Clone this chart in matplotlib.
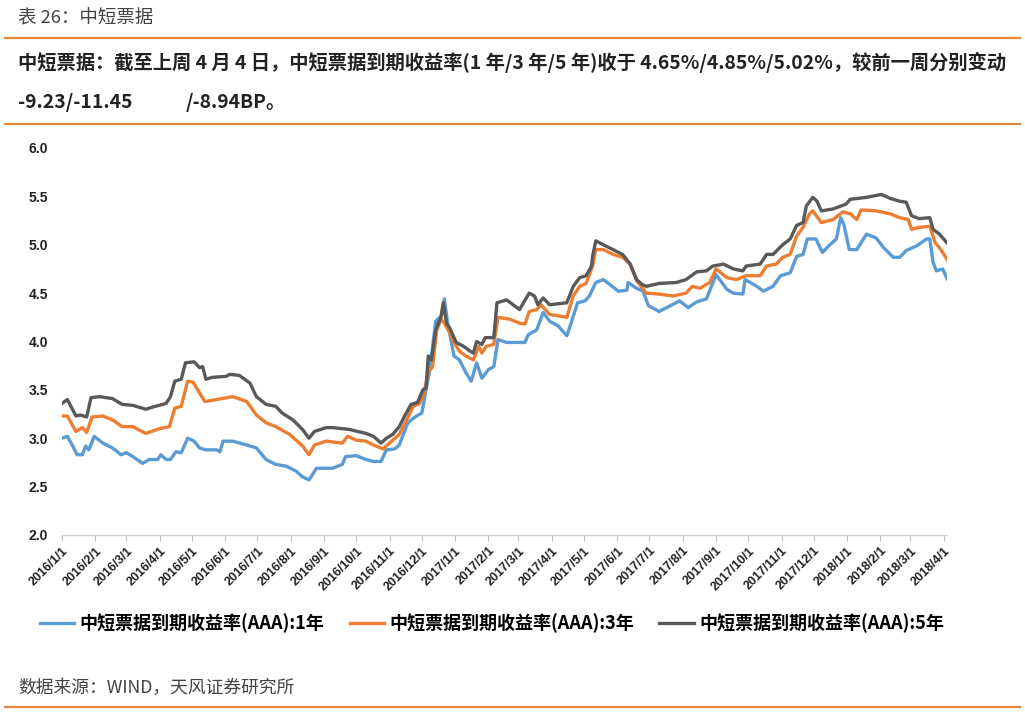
import matplotlib
matplotlib.use("Agg")
import matplotlib.pyplot as plt
from matplotlib.lines import Line2D
import pandas as pd

plt.rcParams['font.family'] = ['Noto Sans CJK SC', 'DejaVu Sans']

# ---------------- data ----------------
dates_5y = ["2016-01-01","2016-01-06","2016-01-14","2016-01-18","2016-01-24","2016-01-28","2016-02-05","2016-02-17",
            "2016-02-26","2016-03-07","2016-03-19","2016-03-28","2016-04-07","2016-04-11","2016-04-15","2016-04-21",
            "2016-04-25","2016-05-03","2016-05-08","2016-05-11","2016-05-14","2016-05-20","2016-06-02","2016-06-05",
            "2016-06-14","2016-06-24","2016-06-30","2016-07-09","2016-07-18","2016-07-24","2016-08-03","2016-08-12",
            "2016-08-18","2016-08-23","2016-09-03","2016-09-09","2016-09-25","2016-10-10","2016-10-17","2016-10-24",
            "2016-10-29","2016-11-04","2016-11-10","2016-11-15","2016-11-21","2016-11-27","2016-12-02","2016-12-05",
            "2016-12-07","2016-12-10","2016-12-14","2016-12-19","2016-12-21","2016-12-24","2016-12-27","2017-01-02",
            "2017-01-09","2017-01-15","2017-01-18","2017-01-21","2017-01-26","2017-01-29","2017-02-06","2017-02-09",
            "2017-02-18","2017-03-02","2017-03-11","2017-03-16","2017-03-19","2017-03-24","2017-03-30","2017-04-15",
            "2017-04-21","2017-04-27","2017-05-03","2017-05-08","2017-05-09","2017-05-12","2017-05-19","2017-05-28",
            "2017-06-06","2017-06-13","2017-06-19","2017-06-24","2017-06-28","2017-07-10","2017-07-26","2017-08-04",
            "2017-08-14","2017-08-23","2017-08-29","2017-09-08","2017-09-17","2017-09-26","2017-09-29","2017-10-12",
            "2017-10-18","2017-10-24","2017-11-02","2017-11-09","2017-11-15","2017-11-21","2017-11-24","2017-11-30",
            "2017-12-04","2017-12-08","2017-12-19","2017-12-31","2018-01-04","2018-01-19","2018-02-02","2018-02-10",
            "2018-02-19","2018-02-25","2018-03-02","2018-03-09","2018-03-19","2018-03-22","2018-03-28","2018-04-04"]
yield_5y = [3.36,3.40,3.23,3.24,3.22,3.42,3.43,3.41,
            3.35,3.34,3.30,3.33,3.36,3.43,3.59,3.61,
            3.78,3.79,3.73,3.74,3.61,3.63,3.64,3.66,
            3.65,3.57,3.43,3.35,3.33,3.26,3.19,3.09,
            3.00,3.07,3.11,3.11,3.09,3.05,3.02,2.95,
            3.00,3.04,3.12,3.23,3.35,3.37,3.50,3.52,
            3.85,3.81,4.12,4.26,4.40,4.19,4.14,3.99,
            3.95,3.90,3.88,4.00,3.97,4.04,4.04,4.40,
            4.43,4.33,4.50,4.47,4.38,4.45,4.38,4.40,
            4.57,4.66,4.68,4.78,4.88,5.04,5.00,4.95,
            4.90,4.80,4.64,4.59,4.57,4.60,4.61,4.64,
            4.72,4.73,4.78,4.80,4.75,4.73,4.78,4.80,
            4.90,4.90,5.00,5.06,5.20,5.23,5.40,5.49,
            5.45,5.35,5.37,5.42,5.47,5.49,5.52,5.48,
            5.45,5.44,5.30,5.27,5.28,5.16,5.11,5.02]

dates_3y = ["2016-01-01","2016-01-06","2016-01-14","2016-01-20","2016-01-24","2016-01-29","2016-02-08","2016-02-17",
            "2016-02-26","2016-03-07","2016-03-19","2016-04-01","2016-04-10","2016-04-15","2016-04-21","2016-04-27",
            "2016-05-02","2016-05-08","2016-05-13","2016-05-24","2016-06-08","2016-06-21","2016-06-30","2016-07-09",
            "2016-07-18","2016-07-31","2016-08-12","2016-08-18","2016-08-23","2016-09-03","2016-09-18","2016-09-23",
            "2016-10-01","2016-10-10","2016-10-17","2016-10-26","2016-11-01","2016-11-10","2016-11-16","2016-11-23",
            "2016-11-29","2016-12-03","2016-12-07","2016-12-11","2016-12-15","2016-12-19","2016-12-22","2016-12-27",
            "2016-12-31","2017-01-05","2017-01-11","2017-01-18","2017-01-23","2017-01-26","2017-01-30","2017-02-06",
            "2017-02-10","2017-02-21","2017-03-02","2017-03-07","2017-03-11","2017-03-18","2017-03-22","2017-03-30",
            "2017-04-15","2017-04-21","2017-04-27","2017-05-03","2017-05-09","2017-05-12","2017-05-19","2017-05-28",
            "2017-06-06","2017-06-13","2017-06-19","2017-06-28","2017-07-10","2017-07-23","2017-08-04","2017-08-10",
            "2017-08-17","2017-08-26","2017-09-01","2017-09-11","2017-09-20","2017-09-29","2017-10-12","2017-10-18",
            "2017-10-27","2017-11-02","2017-11-09","2017-11-15","2017-11-21","2017-11-27","2017-11-30","2017-12-08",
            "2017-12-19","2017-12-28","2018-01-04","2018-01-10","2018-01-14","2018-01-28","2018-02-10","2018-02-19",
            "2018-02-27","2018-03-02","2018-03-09","2018-03-19","2018-03-24","2018-03-28","2018-04-04"]
yield_3y = [3.23,3.23,3.07,3.11,3.06,3.22,3.23,3.19,
            3.12,3.12,3.05,3.10,3.12,3.31,3.33,3.59,
            3.58,3.47,3.38,3.40,3.43,3.38,3.24,3.16,
            3.12,3.04,2.92,2.83,2.93,2.97,2.95,3.02,
            2.98,2.97,2.93,2.89,2.95,3.04,3.17,3.33,
            3.36,3.47,3.68,3.74,4.12,4.23,4.19,4.09,
            3.99,3.90,3.85,3.81,3.95,3.88,3.95,3.97,
            4.25,4.23,4.19,4.18,4.31,4.33,4.38,4.28,
            4.25,4.47,4.57,4.60,4.78,4.95,4.95,4.90,
            4.87,4.80,4.63,4.50,4.49,4.47,4.50,4.57,
            4.55,4.61,4.75,4.66,4.64,4.68,4.68,4.78,
            4.80,4.87,4.90,5.09,5.18,5.32,5.35,5.23,
            5.26,5.34,5.32,5.26,5.36,5.35,5.32,5.28,
            5.26,5.16,5.18,5.19,5.02,4.97,4.85]

dates_1y = ["2016-01-01","2016-01-06","2016-01-11","2016-01-15","2016-01-20","2016-01-23","2016-01-26","2016-01-31",
            "2016-02-08","2016-02-17","2016-02-25","2016-03-01","2016-03-07","2016-03-16","2016-03-22","2016-03-30",
            "2016-04-02","2016-04-07","2016-04-11","2016-04-16","2016-04-21","2016-04-27","2016-05-03","2016-05-08",
            "2016-05-14","2016-05-24","2016-05-27","2016-05-30","2016-06-08","2016-06-21","2016-06-30","2016-07-09",
            "2016-07-18","2016-07-28","2016-08-06","2016-08-12","2016-08-18","2016-08-25","2016-08-31","2016-09-09",
            "2016-09-18","2016-09-21","2016-10-01","2016-10-10","2016-10-17","2016-10-24","2016-10-29","2016-11-06",
            "2016-11-10","2016-11-18","2016-11-26","2016-12-01","2016-12-03","2016-12-08","2016-12-14","2016-12-19",
            "2016-12-22","2016-12-25","2016-12-31","2017-01-05","2017-01-11","2017-01-16","2017-01-21","2017-01-26",
            "2017-02-01","2017-02-06","2017-02-10","2017-02-18","2017-03-07","2017-03-10","2017-03-18","2017-03-24",
            "2017-03-30","2017-04-07","2017-04-15","2017-04-19","2017-04-25","2017-05-02","2017-05-06","2017-05-12",
            "2017-05-19","2017-05-25","2017-06-02","2017-06-10","2017-06-11","2017-06-19","2017-06-25","2017-06-30",
            "2017-07-10","2017-07-17","2017-07-29","2017-08-06","2017-08-14","2017-08-23","2017-09-01","2017-09-11",
            "2017-09-17","2017-09-26","2017-09-28","2017-10-09","2017-10-15","2017-10-24","2017-10-31","2017-11-09",
            "2017-11-15","2017-11-21","2017-11-25","2017-12-03","2017-12-09","2017-12-15","2017-12-22","2017-12-26",
            "2017-12-29","2018-01-03","2018-01-10","2018-01-19","2018-01-28","2018-02-04","2018-02-13","2018-02-19",
            "2018-02-25","2018-03-07","2018-03-16","2018-03-19","2018-03-22","2018-03-25","2018-03-31","2018-04-04"]
yield_1y = [3.00,3.02,2.92,2.83,2.83,2.92,2.88,3.02,
            2.95,2.90,2.83,2.85,2.81,2.74,2.78,2.78,
            2.83,2.78,2.78,2.86,2.85,3.00,2.97,2.90,
            2.88,2.88,2.86,2.97,2.97,2.93,2.90,2.78,
            2.73,2.71,2.66,2.60,2.57,2.69,2.69,2.69,
            2.73,2.81,2.82,2.78,2.76,2.76,2.88,2.89,
            2.93,3.16,3.23,3.26,3.38,3.68,4.21,4.26,
            4.44,4.19,3.85,3.81,3.68,3.59,3.78,3.62,
            3.71,3.74,4.02,3.99,3.99,4.07,4.12,4.30,
            4.21,4.16,4.06,4.19,4.40,4.42,4.47,4.61,
            4.64,4.59,4.52,4.53,4.61,4.55,4.52,4.37,
            4.31,4.35,4.42,4.35,4.41,4.44,4.69,4.54,
            4.50,4.49,4.64,4.57,4.52,4.57,4.68,4.71,
            4.88,4.90,5.06,5.06,4.92,4.99,5.06,5.28,
            5.21,4.95,4.95,5.11,5.07,4.97,4.87,4.87,
            4.94,4.99,5.06,5.06,4.82,4.73,4.75,4.65]

series_labels = ["中短票据到期收益率(AAA):1年", "中短票据到期收益率(AAA):3年", "中短票据到期收益率(AAA):5年"]
series_colors = ["#5B9BD5", "#ED7D31", "#595959"]

y_ticks = [2.0, 2.5, 3.0, 3.5, 4.0, 4.5, 5.0, 5.5, 6.0]
tick_months = pd.date_range("2016-01-01", "2018-04-01", freq="MS")
tick_labels = [f"{d.year}/{d.month}/1" for d in tick_months]

title_text = "表 26：中短票据"
summary_line1 = "中短票据：截至上周 4 月 4 日，中短票据到期收益率(1 年/3 年/5 年)收于 4.65%/4.85%/5.02%，较前一周分别变动"
summary_line2a = "-9.23/-11.45"
summary_line2b = "/-8.94BP。"
source_text = "数据来源：WIND，天风证券研究所"

# ---------------- figure ----------------
W, H = 1025, 727
fig = plt.figure(figsize=(W / 100, H / 100), dpi=100)
fig.patch.set_facecolor("white")

def fy(py):
    return 1 - py / H

ORANGE = "#E8863A"
for py in (38, 124, 707):
    fig.add_artist(Line2D([5 / W, 1020 / W], [fy(py), fy(py)], color=ORANGE, lw=1.6))

fig.text(18 / W, fy(18), title_text, fontsize=13.3, color="#444444", va="center", ha="left")
fig.text(18 / W, fy(62), summary_line1, fontsize=13.9, fontweight="bold", color="#222222", va="center", ha="left")
fig.text(18 / W, fy(103), summary_line2a, fontsize=13.9, fontweight="bold", color="#222222", va="center", ha="left")
fig.text(186 / W, fy(103), summary_line2b, fontsize=13.9, fontweight="bold", color="#222222", va="center", ha="left")
fig.text(18 / W, fy(688), source_text, fontsize=12.8, color="#444444", va="center", ha="left")

ax = fig.add_axes([62 / W, fy(535), (947 - 62) / W, (535 - 148) / H])

all_dates = [dates_1y, dates_3y, dates_5y]
all_vals = [yield_1y, yield_3y, yield_5y]
handles = []
for d, v, lab, c in zip(all_dates, all_vals, series_labels, series_colors):
    h, = ax.plot(pd.to_datetime(d), v, color=c, lw=2.4, label=lab, solid_joinstyle="round")
    handles.append(h)

ax.set_ylim(2.0, 6.0)
ax.set_xlim(pd.Timestamp("2016-01-01"), pd.Timestamp("2018-04-04"))
ax.set_yticks(y_ticks)
ax.set_yticklabels([f"{t:.1f}" for t in y_ticks], fontsize=10, fontweight="bold", color="#222222",
                   family=["Liberation Sans Narrow", "Liberation Sans", "DejaVu Sans"])
ax.tick_params(axis="y", length=0, pad=10)
ax.set_xticks(tick_months)
ax.set_xticklabels(tick_labels, rotation=45, ha="right", rotation_mode="anchor", fontsize=9,
                   fontweight="bold", color="#222222", family=["Liberation Sans", "DejaVu Sans"])
ax.tick_params(axis="x", length=4, color="#BFBFBF", pad=3)
for s in ("left", "right", "top"):
    ax.spines[s].set_visible(False)
ax.spines["bottom"].set_color("#D0D0D0")
ax.spines["bottom"].set_linewidth(1.0)
ax.grid(False)

fig.legend(handles=handles, labels=series_labels, loc="center", bbox_to_anchor=(492 / W, fy(623)),
           ncol=3, frameon=False, handlelength=1.9, handletextpad=0.3, columnspacing=1.4,
           prop={"family": ["Noto Sans CJK SC", "DejaVu Sans"], "weight": "bold", "size": 13.0})

fig.savefig("out.png", dpi=100, facecolor="white")
